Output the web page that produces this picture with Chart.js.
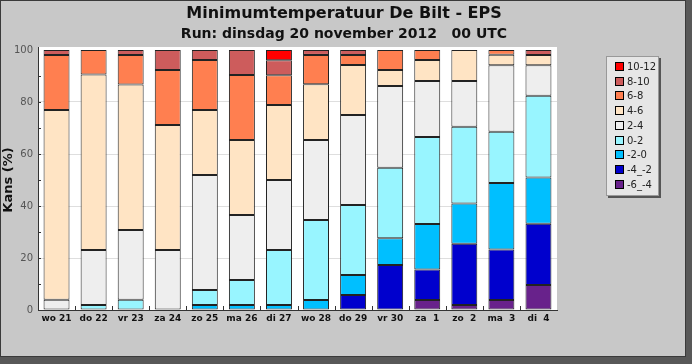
<!DOCTYPE html>
<html>
<head>
<meta charset="utf-8">
<script src="https://cdn.jsdelivr.net/npm/chart.js@4"></script>
<style>
  body { margin: 0; background: #585858; width: 692px; height: 364px; overflow: hidden; font-family: "DejaVu Sans", sans-serif; }
  #panel { position: absolute; left: 0; top: 0; width: 684px; height: 355px; background: #c8c8c8; border: 1px solid #3a3a3a; }
  #chart { position: absolute; left: 0; top: 0; }
  .title { position: absolute; left: 0; width: 686px; text-align: center; font-weight: bold; color: #111; white-space: pre; }
  #t1 { top: 1px; font-size: 16px; line-height: 22px; }
  #t2 { top: 23px; font-size: 14px; line-height: 18px; }
  #legend { position: absolute; left: 605px; top: 55px; width: 51px; height: 138px; background: #e6e6e6; border: 1px solid #999; box-shadow: 2px 2px 0 #555; }
  .item { position: absolute; left: 8px; height: 14px; line-height: 14px; font-size: 10px; color: #222; white-space: pre; }
  .sw { display: inline-block; width: 7px; height: 7px; border: 1px solid #000; margin-right: 3px; vertical-align: -1px; }
</style>
</head>
<body>
<div id="panel">
  <canvas id="chart" width="686" height="357"></canvas>
  <div class="title" id="t1">Minimumtemperatuur De Bilt - EPS</div>
  <div class="title" id="t2">Run: dinsdag 20 november 2012   00 UTC</div>
  <div id="legend"></div>
</div>
<script>
// dagen
var days = ['wo 21', 'do 22', 'vr 23', 'za 24', 'zo 25', 'ma 26', 'di 27', 'wo 28', 'do 29', 'vr 30', 'za  1', 'zo  2', 'ma  3', 'di  4'];

// kans (%) per temperatuurklasse, van onder naar boven gestapeld
var kMin6 = [0, 0, 0, 0, 0, 0, 0, 0, 0, 0, 3.8, 1.9, 3.8, 9.6];
var kMin4 = [0, 0, 0, 0, 0, 0, 0, 0, 5.8, 17.3, 11.8, 23.6, 19.5, 23.6];
var kMin2 = [0, 0, 0, 0, 1.9, 1.9, 1.9, 3.8, 7.7, 10.3, 17.5, 15.5, 25.5, 17.8];
var k0 = [0, 1.9, 3.9, 0, 5.8, 9.6, 21.2, 30.8, 26.9, 27.1, 33.4, 29.5, 19.8, 31.4];
var k2 = [3.9, 21.2, 26.9, 23.1, 44.2, 25.0, 26.9, 30.8, 34.6, 31.5, 21.6, 17.6, 25.5, 11.7];
var k4 = [73.0, 67.5, 55.9, 48.1, 25.0, 28.9, 28.8, 21.4, 19.2, 6.1, 8.1, 11.9, 4.1, 4.0];
var k6 = [21.2, 9.4, 11.4, 21.1, 19.3, 25.0, 11.5, 11.3, 3.9, 7.7, 3.8, 0, 1.8, 0];
var k8 = [1.9, 0, 1.9, 7.7, 3.8, 9.6, 5.8, 1.9, 1.9, 0, 0, 0, 0, 1.9];
var k10 = [0, 0, 0, 0, 0, 0, 3.9, 0, 0, 0, 0, 0, 0, 0];

var classLabels = ['-6_-4', '-4_-2', '-2-0', '0-2', '2-4', '4-6', '6-8', '8-10', '10-12'];
var classColors = ['#68228b', '#0000cd', '#00bfff', '#98f5ff', '#eeeeee', '#ffe4c4', '#ff7f50', '#cd5c5c', '#ff0000'];
var classData = [kMin6, kMin4, kMin2, k0, k2, k4, k6, k8, k10];

var datasets = classData.map(function(d, i) {
    return {
        label: classLabels[i],
        data: d.map(function(v) { return v > 0 ? v : null; }),
        backgroundColor: classColors[i],
        borderColor: '#222',
        borderWidth: 1,
        borderSkipped: false,
        categoryPercentage: 1.0,
        barPercentage: 0.70
    };
});

// kleine streepjes aan de binnenkant van de assen
var innerTicks = {
    id: 'innerTicks',
    afterDraw: function(chart) {
        var c = chart.ctx, a = chart.chartArea;
        var ys = chart.scales.y, xs = chart.scales.x;
        c.save();
        c.strokeStyle = '#333';
        c.lineWidth = 1;
        c.beginPath();
        c.moveTo(a.left + 0.5, a.top);
        c.lineTo(a.left + 0.5, a.top - 3);
        for (var v = 10; v < 100; v += 10) {
            var py = Math.round(ys.getPixelForValue(v)) + 0.5;
            c.moveTo(a.left, py);
            c.lineTo(a.left + 3, py);
        }
        for (var i = 1; i < days.length; i++) {
            var px = Math.round((xs.getPixelForValue(i - 1) + xs.getPixelForValue(i)) / 2) + 0.5;
            c.moveTo(px, a.bottom);
            c.lineTo(px, a.bottom - 4);
        }
        c.stroke();
        c.restore();
    }
};

var plotBg = {
    id: 'plotBg',
    beforeDraw: function(chart) {
        var a = chart.chartArea, c = chart.ctx;
        c.save();
        c.fillStyle = '#ffffff';
        c.fillRect(a.left, a.top - 3, a.right - a.left, a.bottom - a.top + 3);
        c.restore();
    }
};

var ctx = document.getElementById('chart').getContext('2d');
var myChart = new Chart(ctx, {
    type: 'bar',
    data: { labels: days, datasets: datasets },
    plugins: [plotBg, innerTicks],
    options: {
        responsive: false,
        animation: false,
        layout: { padding: { left: 0, top: 49, right: 130, bottom: 0 } },
        plugins: {
            legend: { display: false },
            tooltip: { enabled: false }
        },
        scales: {
            x: {
                stacked: true,
                grid: { display: false, drawTicks: false },
                border: { display: true, color: '#333', width: 1 },
                ticks: {
                    color: '#111',
                    font: { family: 'DejaVu Sans', size: 9, weight: 'bold' },
                    padding: 3,
                    maxRotation: 0,
                    autoSkip: false
                },
                afterFit: function(s) { s.height = 48; }
            },
            y: {
                stacked: true,
                min: 0,
                max: 100,
                grid: {
                    drawTicks: false,
                    color: function(c) {
                        var v = c.tick.value;
                        return (v % 20 === 0 && v > 0 && v < 100) ? '#dedede' : 'rgba(0,0,0,0)';
                    }
                },
                border: { display: true, color: '#333', width: 1 },
                ticks: {
                    stepSize: 10,
                    color: '#555',
                    font: { family: 'DejaVu Sans', size: 10 },
                    padding: 5,
                    callback: function(v) { return v % 20 === 0 ? v : ''; }
                },
                title: {
                    display: true,
                    text: 'Kans (%)',
                    color: '#111',
                    font: { family: 'DejaVu Sans', size: 13, weight: 'bold' },
                    padding: 0
                },
                afterFit: function(s) { s.width = 37; }
            }
        }
    }
});

// legenda, hoogste klasse bovenaan
var leg = document.getElementById('legend');
for (var i = classLabels.length - 1; i >= 0; i--) {
    var row = document.createElement('div');
    row.className = 'item';
    row.style.top = (3 + (classLabels.length - 1 - i) * 14.7) + 'px';
    row.innerHTML = '<span class="sw" style="background:' + classColors[i] + '"></span>' + classLabels[i];
    leg.appendChild(row);
}
</script>
</body>
</html>
